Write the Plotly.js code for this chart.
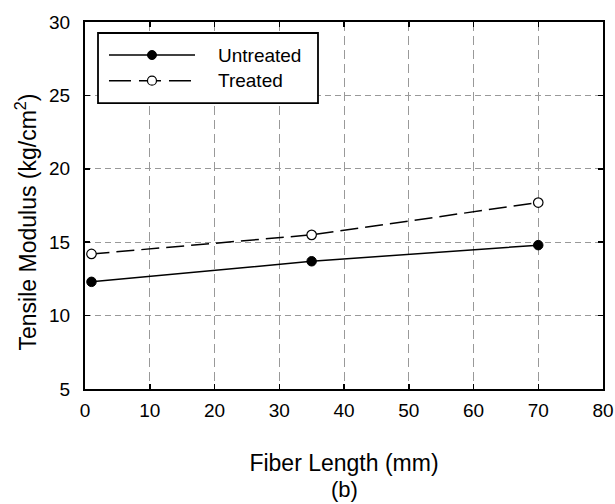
<!DOCTYPE html>
<html>
<head>
<meta charset="utf-8">
<script src="https://cdn.plot.ly/plotly-3.0.1.min.js"></script>
<style>html,body{margin:0;padding:0;background:#fff;}#chart{width:615px;height:504px;}</style>
</head>
<body>
<div id="chart"></div>
<script>
const fiberLength = [1, 35, 70];
const untreated = [12.3, 13.7, 14.8];
const treated = [14.2, 15.5, 17.7];
const seriesNames = ["Untreated", "Treated"];
const xTicks = [0, 10, 20, 30, 40, 50, 60, 70, 80];
const yTicks = [5, 10, 15, 20, 25, 30];

const fam = "Liberation Sans, Arial, sans-serif";
const TREATED_DASH = "18px,7px";

const traces = [
  {x: fiberLength, y: untreated, name: seriesNames[0], mode: "lines+markers", showlegend: false,
   line: {color: "#000", width: 1.5},
   marker: {symbol: "circle", size: 9.5, color: "#000", line: {color: "#000", width: 1}}},
  {x: fiberLength, y: treated, name: seriesNames[1], mode: "lines+markers", showlegend: false,
   line: {color: "#000", width: 1.5, dash: TREATED_DASH},
   marker: {symbol: "circle", size: 9.5, color: "#fff", line: {color: "#000", width: 1.2}}}
];

const axisCommon = {
  showline: true, linecolor: "#000", linewidth: 2, mirror: "ticks",
  ticks: "inside", ticklen: 5, tickcolor: "#000", tickwidth: 1.5,
  showgrid: true, gridcolor: "#999", gridwidth: 1,
  zeroline: false, tickfont: {family: fam, size: 19, color: "#000"}
};

// custom legend (paper coordinates)
const L = {x0: 0.0251, x1: 0.4498, y0: 0.779, y1: 0.970, lx0: 0.0463, lx1: 0.2124, mx: 0.1293, tx: 0.2529, rows: [0.910, 0.840]};
const shapes = [
  {type: "rect", xref: "paper", yref: "paper", x0: L.x0, x1: L.x1, y0: L.y0, y1: L.y1,
   line: {color: "#000", width: 1.8}, fillcolor: "#fff", layer: "above"},
  {type: "line", xref: "paper", yref: "paper", x0: L.lx0, x1: L.lx1, y0: L.rows[0], y1: L.rows[0],
   line: {color: "#000", width: 1.5}, layer: "above"},
  {type: "line", xref: "paper", yref: "paper", x0: L.lx0, x1: L.lx1, y0: L.rows[1], y1: L.rows[1],
   line: {color: "#000", width: 1.5, dash: "22px,8px"}, layer: "above"},
  {type: "circle", xref: "paper", yref: "paper", xsizemode: "pixel", ysizemode: "pixel",
   xanchor: L.mx, yanchor: L.rows[0], x0: -4.5, x1: 4.5, y0: -4.5, y1: 4.5,
   line: {color: "#000", width: 1}, fillcolor: "#000", layer: "above"},
  {type: "circle", xref: "paper", yref: "paper", xsizemode: "pixel", ysizemode: "pixel",
   xanchor: L.mx, yanchor: L.rows[1], x0: -4.5, x1: 4.5, y0: -4.5, y1: 4.5,
   line: {color: "#000", width: 1.2}, fillcolor: "#fff", layer: "above"}
];

const annotations = [
  {text: seriesNames[0], xref: "paper", yref: "paper", x: L.tx, y: L.rows[0], xanchor: "left", yanchor: "middle",
   showarrow: false, font: {family: fam, size: 19, color: "#000"}},
  {text: seriesNames[1], xref: "paper", yref: "paper", x: L.tx, y: L.rows[1], xanchor: "left", yanchor: "middle",
   showarrow: false, font: {family: fam, size: 19, color: "#000"}},
  {text: "Tensile Modulus (kg/cm<sup>2</sup>)", xref: "paper", yref: "paper", x: -0.113, y: 0.455,
   xanchor: "center", yanchor: "middle", textangle: -90,
   showarrow: false, font: {family: fam, size: 23, color: "#000"}},
  {text: "(b)", xref: "paper", yref: "paper", x: 0.5, y: -0.275, xanchor: "center", yanchor: "middle",
   showarrow: false, font: {family: fam, size: 22, color: "#000"}}
];

const layout = {
  width: 615, height: 504,
  margin: {l: 85, r: 12, t: 22, b: 115},
  paper_bgcolor: "#fff", plot_bgcolor: "#fff",
  font: {family: fam, color: "#000"},
  showlegend: false,
  xaxis: Object.assign({}, axisCommon, {
    range: [0, 80], tickvals: xTicks, ticktext: xTicks.map(String), ticklabelstandoff: 3,
    griddash: "9px,5px",
    title: {text: "Fiber Length (mm)", font: {family: fam, size: 23, color: "#000"}, standoff: 35}
  }),
  yaxis: Object.assign({}, axisCommon, {
    range: [5, 30], tickvals: yTicks, ticktext: yTicks.map(String), ticklabelstandoff: 9,
    griddash: "6px,4px"
  }),
  shapes: shapes,
  annotations: annotations
};

Plotly.newPlot("chart", traces, layout, {displayModeBar: false, staticPlot: true});
</script>
</body>
</html>
